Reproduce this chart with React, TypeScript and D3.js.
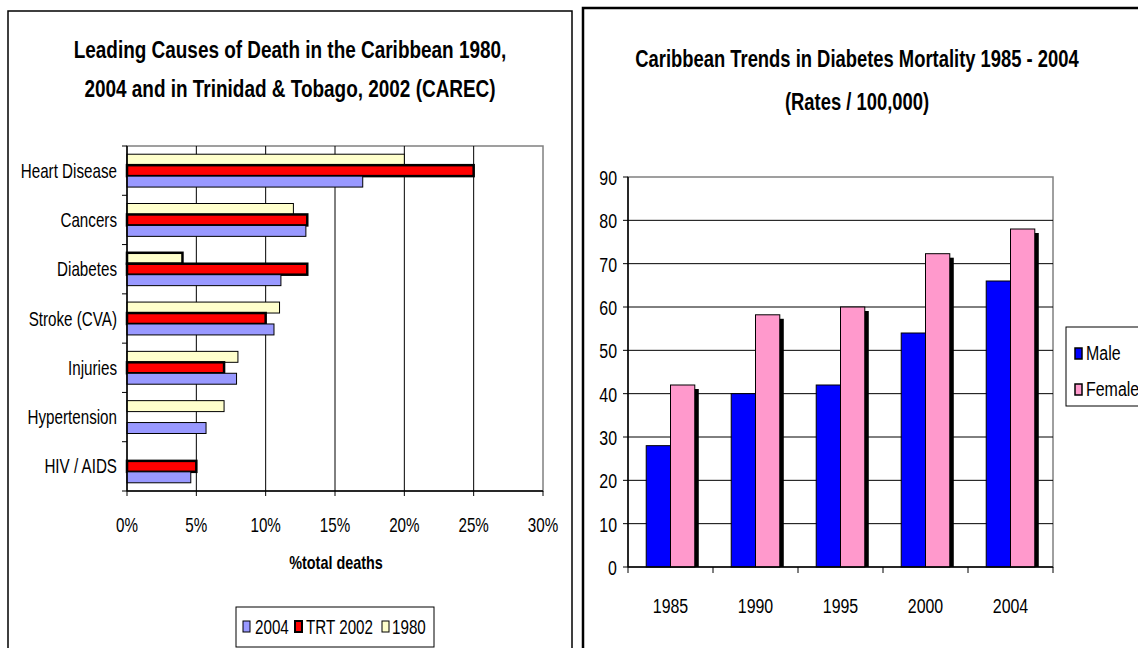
import React from "react";
import * as d3 from "d3";

const W = 1138;
const H = 648;

// left chart: leading causes of death (% of total deaths)
const causes = [
  "Heart Disease",
  "Cancers",
  "Diabetes",
  "Stroke (CVA)",
  "Injuries",
  "Hypertension",
  "HIV / AIDS",
];
const deaths2004 = [17.0, 12.9, 11.1, 10.6, 7.9, 5.7, 4.6];
const deathsTrt2002 = [25, 13, 13, 10, 7, null, 5];
const deaths1980 = [20, 12, 4, 11, 8, 7, null];
const pctTicks = [0, 5, 10, 15, 20, 25, 30];

// right chart: diabetes mortality rates / 100,000
const years = ["1985", "1990", "1995", "2000", "2004"];
const male = [28, 40, 42, 54, 66];
const female = [42, 58.2, 60, 72.3, 78];
const rateTicks = [0, 10, 20, 30, 40, 50, 60, 70, 80, 90];

const font = "'Liberation Sans', Arial, sans-serif";

const left = { x0: 127, x1: 543, y0: 146, y1: 491 };
const right = { x0: 628, x1: 1053, y0: 177, y1: 567 };

// no narrow face installed, so squeeze the text horizontally
function NText(props: {
  x: number;
  y: number;
  size: number;
  anchor?: string;
  bold?: boolean;
  sx?: number;
  children: React.ReactNode;
}) {
  const { x, y, size, anchor = "start", bold = false, sx = 0.76, children } = props;
  return (
    <text
      transform={`translate(${x},${y}) scale(${sx},1)`}
      textAnchor={anchor}
      fontSize={size}
      fontWeight={bold ? "bold" : "normal"}
      fontFamily={font}
    >
      {children}
    </text>
  );
}

function LeftChart() {
  const x = d3.scaleLinear().domain([0, 30]).range([left.x0, left.x1]);
  const y = d3.scaleBand().domain(causes).range([left.y0, left.y1]);
  const series = [
    { name: "1980", values: deaths1980, fill: "#FFFFCC", sw: 1 },
    { name: "TRT 2002", values: deathsTrt2002, fill: "#FF0000", sw: 2.5 },
    { name: "2004", values: deaths2004, fill: "#9999FF", sw: 1 },
  ];
  const inner = d3
    .scaleBand()
    .domain(series.map((s) => s.name))
    .range([0, y.bandwidth()])
    .paddingOuter(0.75);
  const bounds = causes.map((c) => y(c)!).concat([left.y1]);

  return (
    <g>
      <NText x={290} y={58} size={24} anchor="middle" bold sx={0.79}>
        Leading Causes of Death in the Caribbean 1980,
      </NText>
      <NText x={290} y={97} size={24} anchor="middle" bold sx={0.79}>
        2004 and in Trinidad &amp; Tobago, 2002 (CAREC)
      </NText>

      {/* plot area border + gridlines */}
      <rect x={left.x0} y={left.y0} width={left.x1 - left.x0} height={left.y1 - left.y0}
        fill="none" stroke="#808080" strokeWidth={1.5} />
      {pctTicks.slice(1, -1).map((t) => (
        <line key={t} x1={x(t)} x2={x(t)} y1={left.y0} y2={left.y1} stroke="#000" strokeWidth={1} />
      ))}

      {/* bars */}
      {series.map((s) =>
        causes.map((c, i) => {
          const v = s.values[i];
          if (v == null) return null;
          // Diabetes 1980 bar carries a heavier outline in the source
          const sw = s.name === "1980" && c === "Diabetes" ? 2.5 : s.sw;
          return (
            <rect key={s.name + c} x={x(0)} y={y(c)! + inner(s.name)!}
              width={x(v) - x(0)} height={inner.bandwidth()}
              fill={s.fill} stroke="#000" strokeWidth={sw} />
          );
        })
      )}

      {/* axes */}
      <line x1={left.x0} x2={left.x0} y1={left.y0} y2={left.y1} stroke="#000" strokeWidth={1.5} />
      <line x1={left.x0} x2={left.x1} y1={left.y1} y2={left.y1} stroke="#000" strokeWidth={1.5} />
      {bounds.map((b, i) => (
        <line key={i} x1={left.x0 - 5} x2={left.x0} y1={b} y2={b} stroke="#000" />
      ))}
      {pctTicks.map((t) => (
        <g key={t}>
          <line x1={x(t)} x2={x(t)} y1={left.y1} y2={left.y1 + 5} stroke="#000" />
          <NText x={x(t)} y={532} size={20} anchor="middle">{t + "%"}</NText>
        </g>
      ))}
      {causes.map((c) => (
        <NText key={c} x={117} y={y(c)! + y.bandwidth() / 2 + 7} size={20} anchor="end">{c}</NText>
      ))}
      <NText x={336} y={569} size={18} anchor="middle" bold sx={0.8}>%total deaths</NText>

      {/* legend */}
      <rect x={236} y={607} width={198} height={40} fill="#fff" stroke="#000" strokeWidth={1} />
      {[
        { s: series[2], sx: 243, tx: 255 },
        { s: series[1], sx: 295, tx: 306 },
        { s: series[0], sx: 382, tx: 392 },
      ].map(({ s, sx, tx }) => (
        <g key={s.name}>
          <rect x={sx} y={621} width={7} height={11} fill={s.fill} stroke="#000"
            strokeWidth={s.name === "TRT 2002" ? 2 : 1} />
          <NText x={tx} y={634} size={20}>{s.name}</NText>
        </g>
      ))}
    </g>
  );
}

function RightChart() {
  const x = d3.scaleBand().domain(years).range([right.x0, right.x1]);
  const y = d3.scaleLinear().domain([0, 90]).range([right.y1, right.y0]);
  const series = [
    { name: "Male", values: male, fill: "#0000FF" },
    { name: "Female", values: female, fill: "#FF99CC" },
  ];
  const inner = d3
    .scaleBand()
    .domain(series.map((s) => s.name))
    .range([0, x.bandwidth()])
    .paddingOuter(0.75);
  const bounds = years.map((yr) => x(yr)!).concat([right.x1]);
  const sh = 4;

  return (
    <g>
      <NText x={857} y={67} size={23} anchor="middle" bold sx={0.8}>
        Caribbean Trends in Diabetes Mortality 1985 - 2004
      </NText>
      <NText x={857} y={110} size={23} anchor="middle" bold sx={0.8}>
        (Rates / 100,000)
      </NText>

      <rect x={right.x0} y={right.y0} width={right.x1 - right.x0} height={right.y1 - right.y0}
        fill="none" stroke="#808080" strokeWidth={1.5} />
      {rateTicks.slice(1, -1).map((t) => (
        <line key={t} x1={right.x0} x2={right.x1} y1={y(t)} y2={y(t)} stroke="#000" strokeWidth={1} />
      ))}

      {series.map((s) =>
        years.map((yr, i) => {
          const v = s.values[i];
          const bx = x(yr)! + inner(s.name)!;
          const bw = inner.bandwidth();
          return (
            <g key={s.name + yr}>
              <rect x={bx + sh} y={y(v) + sh} width={bw} height={y(0) - y(v) - sh} fill="#000" />
              <rect x={bx} y={y(v)} width={bw} height={y(0) - y(v)} fill={s.fill} stroke="#000" strokeWidth={1} />
            </g>
          );
        })
      )}

      <line x1={right.x0} x2={right.x0} y1={right.y0} y2={right.y1} stroke="#000" strokeWidth={1.5} />
      <line x1={right.x0} x2={right.x1} y1={right.y1} y2={right.y1} stroke="#000" strokeWidth={1.5} />
      {rateTicks.map((t) => (
        <g key={t}>
          <line x1={right.x0 - 5} x2={right.x0} y1={y(t)} y2={y(t)} stroke="#000" />
          <NText x={617} y={y(t) + 8} size={21} anchor="end">{t}</NText>
        </g>
      ))}
      {bounds.map((b, i) => (
        <line key={i} x1={b} x2={b} y1={right.y1} y2={right.y1 + 6} stroke="#000" />
      ))}
      {years.map((yr) => (
        <NText key={yr} x={x(yr)! + x.bandwidth() / 2} y={613} size={21} anchor="middle">{yr}</NText>
      ))}

      {/* legend */}
      <rect x={1066} y={327} width={90} height={79} fill="#fff" stroke="#000" strokeWidth={1} />
      {series.map((s, i) => (
        <g key={s.name}>
          <rect x={1075} y={348 + i * 36} width={7} height={11} fill={s.fill} stroke="#000" strokeWidth={1.5} />
          <NText x={1086} y={360 + i * 36} size={21}>{s.name}</NText>
        </g>
      ))}
    </g>
  );
}

export default function App() {
  return (
    <svg width={W} height={H} style={{ position: "absolute", left: 0, top: 0, background: "#fff" }}>
      <rect x={0} y={0} width={W} height={H} fill="#fff" />
      <rect x={8} y={11} width={564} height={660} fill="#fff" stroke="#000" strokeWidth={1.5} />
      <rect x={583} y={8} width={600} height={660} fill="#fff" stroke="#000" strokeWidth={2.5} />
      <LeftChart />
      <RightChart />
    </svg>
  );
}
